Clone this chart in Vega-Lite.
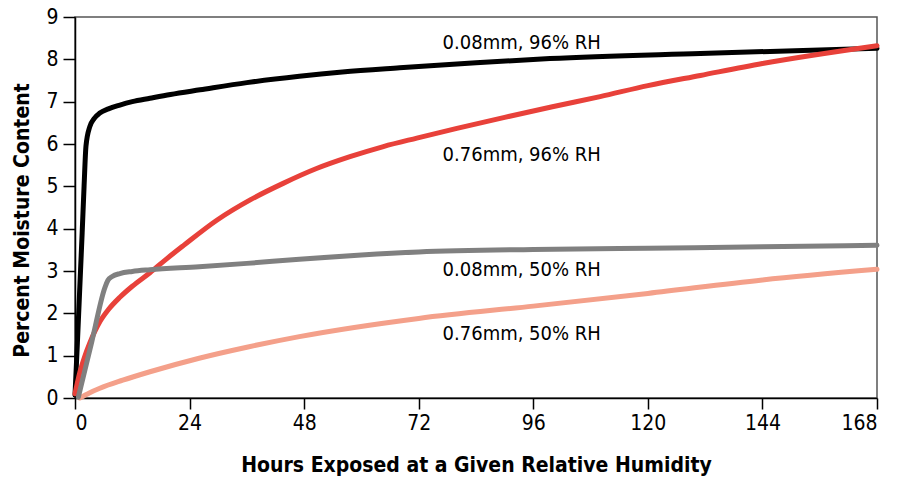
{
  "$schema": "https://vega.github.io/schema/vega-lite/v6.json",
  "autosize": "none",
  "width": 802,
  "height": 381,
  "padding": {"left": 75, "top": 17, "right": 29, "bottom": 80},
  "background": "white",
  "config": {
    "font": "DejaVu Sans Condensed, DejaVu Sans, sans-serif",
    "view": {"stroke": "#555555", "strokeWidth": 1.5}
  },
  "datasets": {
    "curves": [
      {"series": "0.76mm, 50% RH", "h": 1, "v": 0.0},
      {"series": "0.76mm, 50% RH", "h": 3, "v": 0.12},
      {"series": "0.76mm, 50% RH", "h": 5.2, "v": 0.23},
      {"series": "0.76mm, 50% RH", "h": 10, "v": 0.42},
      {"series": "0.76mm, 50% RH", "h": 15.7, "v": 0.62},
      {"series": "0.76mm, 50% RH", "h": 26, "v": 0.94},
      {"series": "0.76mm, 50% RH", "h": 36, "v": 1.2},
      {"series": "0.76mm, 50% RH", "h": 47, "v": 1.45},
      {"series": "0.76mm, 50% RH", "h": 72, "v": 1.88},
      {"series": "0.76mm, 50% RH", "h": 96, "v": 2.17},
      {"series": "0.76mm, 50% RH", "h": 120, "v": 2.47},
      {"series": "0.76mm, 50% RH", "h": 144, "v": 2.79},
      {"series": "0.76mm, 50% RH", "h": 168, "v": 3.04},

      {"series": "0.08mm, 96% RH", "h": 0, "v": 0.07},
      {"series": "0.08mm, 96% RH", "h": 0.5, "v": 1.3},
      {"series": "0.08mm, 96% RH", "h": 1.0, "v": 2.6},
      {"series": "0.08mm, 96% RH", "h": 1.5, "v": 3.9},
      {"series": "0.08mm, 96% RH", "h": 1.9, "v": 5.0},
      {"series": "0.08mm, 96% RH", "h": 2.3, "v": 5.95},
      {"series": "0.08mm, 96% RH", "h": 3.1, "v": 6.41},
      {"series": "0.08mm, 96% RH", "h": 4, "v": 6.6},
      {"series": "0.08mm, 96% RH", "h": 5.2, "v": 6.73},
      {"series": "0.08mm, 96% RH", "h": 7, "v": 6.83},
      {"series": "0.08mm, 96% RH", "h": 9.4, "v": 6.92},
      {"series": "0.08mm, 96% RH", "h": 12, "v": 7.0},
      {"series": "0.08mm, 96% RH", "h": 15.7, "v": 7.08},
      {"series": "0.08mm, 96% RH", "h": 20, "v": 7.17},
      {"series": "0.08mm, 96% RH", "h": 26.2, "v": 7.28},
      {"series": "0.08mm, 96% RH", "h": 36, "v": 7.45},
      {"series": "0.08mm, 96% RH", "h": 47, "v": 7.6},
      {"series": "0.08mm, 96% RH", "h": 56, "v": 7.7},
      {"series": "0.08mm, 96% RH", "h": 68, "v": 7.8},
      {"series": "0.08mm, 96% RH", "h": 84, "v": 7.92},
      {"series": "0.08mm, 96% RH", "h": 99.5, "v": 8.02},
      {"series": "0.08mm, 96% RH", "h": 131, "v": 8.14},
      {"series": "0.08mm, 96% RH", "h": 168, "v": 8.26},

      {"series": "0.76mm, 96% RH", "h": 0, "v": 0.1},
      {"series": "0.76mm, 96% RH", "h": 1, "v": 0.6},
      {"series": "0.76mm, 96% RH", "h": 2, "v": 0.97},
      {"series": "0.76mm, 96% RH", "h": 3.1, "v": 1.3},
      {"series": "0.76mm, 96% RH", "h": 5.2, "v": 1.8},
      {"series": "0.76mm, 96% RH", "h": 7, "v": 2.09},
      {"series": "0.76mm, 96% RH", "h": 9.4, "v": 2.38},
      {"series": "0.76mm, 96% RH", "h": 12, "v": 2.64},
      {"series": "0.76mm, 96% RH", "h": 15.7, "v": 2.96},
      {"series": "0.76mm, 96% RH", "h": 19, "v": 3.27},
      {"series": "0.76mm, 96% RH", "h": 22.7, "v": 3.6},
      {"series": "0.76mm, 96% RH", "h": 29.7, "v": 4.2},
      {"series": "0.76mm, 96% RH", "h": 36.7, "v": 4.68},
      {"series": "0.76mm, 96% RH", "h": 43.6, "v": 5.07},
      {"series": "0.76mm, 96% RH", "h": 50.6, "v": 5.42},
      {"series": "0.76mm, 96% RH", "h": 57.6, "v": 5.7},
      {"series": "0.76mm, 96% RH", "h": 64.6, "v": 5.94},
      {"series": "0.76mm, 96% RH", "h": 71.6, "v": 6.14},
      {"series": "0.76mm, 96% RH", "h": 80, "v": 6.37},
      {"series": "0.76mm, 96% RH", "h": 90, "v": 6.63},
      {"series": "0.76mm, 96% RH", "h": 100, "v": 6.88},
      {"series": "0.76mm, 96% RH", "h": 110, "v": 7.12},
      {"series": "0.76mm, 96% RH", "h": 120, "v": 7.38},
      {"series": "0.76mm, 96% RH", "h": 131, "v": 7.62},
      {"series": "0.76mm, 96% RH", "h": 144, "v": 7.9},
      {"series": "0.76mm, 96% RH", "h": 168, "v": 8.32},

      {"series": "0.08mm, 50% RH", "h": 0.7, "v": 0.02},
      {"series": "0.08mm, 50% RH", "h": 3.5, "v": 1.32},
      {"series": "0.08mm, 50% RH", "h": 6.3, "v": 2.62},
      {"series": "0.08mm, 50% RH", "h": 6.9, "v": 2.78},
      {"series": "0.08mm, 50% RH", "h": 7.8, "v": 2.87},
      {"series": "0.08mm, 50% RH", "h": 9.4, "v": 2.94},
      {"series": "0.08mm, 50% RH", "h": 12, "v": 2.99},
      {"series": "0.08mm, 50% RH", "h": 15.7, "v": 3.03},
      {"series": "0.08mm, 50% RH", "h": 26, "v": 3.1},
      {"series": "0.08mm, 50% RH", "h": 36, "v": 3.18},
      {"series": "0.08mm, 50% RH", "h": 47, "v": 3.28},
      {"series": "0.08mm, 50% RH", "h": 60, "v": 3.38},
      {"series": "0.08mm, 50% RH", "h": 72, "v": 3.45},
      {"series": "0.08mm, 50% RH", "h": 96, "v": 3.51},
      {"series": "0.08mm, 50% RH", "h": 120, "v": 3.54},
      {"series": "0.08mm, 50% RH", "h": 144, "v": 3.57},
      {"series": "0.08mm, 50% RH", "h": 168, "v": 3.61}
    ],
    "labels": [
      {"label": "0.08mm, 96% RH", "h": 77, "v": 8.39},
      {"label": "0.76mm, 96% RH", "h": 77, "v": 5.74},
      {"label": "0.08mm, 50% RH", "h": 77, "v": 3.02},
      {"label": "0.76mm, 50% RH", "h": 77, "v": 1.51}
    ]
  },
  "encoding": {
    "x": {
      "field": "h", "type": "quantitative",
      "scale": {"domain": [0, 168], "nice": false, "zero": false},
      "axis": {
        "title": "Hours Exposed at a Given Relative Humidity",
        "values": [0, 24, 48, 72, 96, 120, 144, 168],
        "grid": false,
        "domainColor": "#000000", "domainWidth": 1.5,
        "tickColor": "#000000", "tickWidth": 1.5, "tickSize": 11,
        "labelFontSize": 21, "labelColor": "#000000", "labelPadding": 3,
        "titleFontSize": 21, "titleFontWeight": "bold", "titleColor": "#000000",
        "titleY": 67, "titleBaseline": "middle"
      }
    },
    "y": {
      "field": "v", "type": "quantitative",
      "scale": {"domain": [0, 9], "nice": false},
      "axis": {
        "title": "Percent Moisture Content",
        "values": [0, 1, 2, 3, 4, 5, 6, 7, 8, 9],
        "grid": false,
        "domainColor": "#000000", "domainWidth": 1.5,
        "tickColor": "#000000", "tickWidth": 1.5, "tickSize": 12,
        "labelFontSize": 21, "labelColor": "#000000", "labelPadding": 5,
        "titleFontSize": 21, "titleFontWeight": "bold", "titleColor": "#000000",
        "titleX": -53, "titleY": 203, "titleAngle": -90,
        "titleAlign": "center", "titleBaseline": "middle"
      }
    }
  },
  "layer": [
    {
      "data": {"name": "curves"},
      "mark": {"type": "line", "strokeWidth": 5, "interpolate": "monotone", "strokeCap": "round", "strokeJoin": "round"},
      "encoding": {
        "color": {
          "field": "series", "type": "nominal",
          "scale": {
            "domain": ["0.76mm, 50% RH", "0.08mm, 96% RH", "0.76mm, 96% RH", "0.08mm, 50% RH"],
            "range": ["#f4a08a", "#000000", "#e8413a", "#808080"]
          },
          "legend": null
        }
      }
    },
    {
      "data": {"name": "labels"},
      "mark": {"type": "text", "align": "left", "baseline": "middle", "fontSize": 20, "color": "#000000"},
      "encoding": {
        "text": {"field": "label", "type": "nominal"}
      }
    }
  ]
}
